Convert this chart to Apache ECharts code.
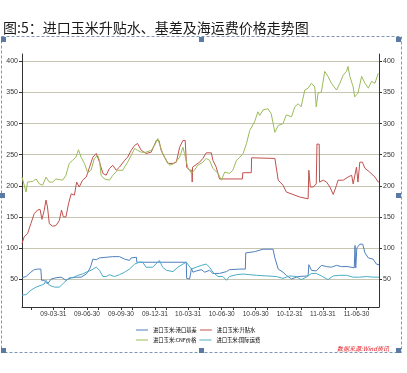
<!DOCTYPE html>
<html><head><meta charset="utf-8">
<script src="https://cdn.jsdelivr.net/npm/echarts@6/dist/echarts.min.js"></script>
<style>html,body{margin:0;padding:0;background:#fff}#c{width:407px;height:373px}</style>
</head><body><div id="c"></div>
<script>
const titleText = '图:5：进口玉米升贴水、基差及海运费价格走势图';
const seriesNames = ['进口玉米:港口基差', '进口玉米:升贴水', '进口玉米:CNF价格', '进口玉米:国际运费'];
const xLabelDates = ['2009-03-31','2009-06-30','2009-09-30','2009-12-31','2010-03-31','2010-06-30','2010-09-30','2010-12-31','2011-03-31','2011-06-30'];
const xTickDates = ['2009-01-31','2009-03-31','2009-04-30','2009-06-30','2009-07-31','2009-09-30','2009-10-31','2009-12-31','2010-01-31','2010-03-31','2010-04-30','2010-06-30','2010-07-31','2010-09-30','2010-10-31','2010-12-31','2011-01-31','2011-03-31','2011-05-31','2011-06-30','2011-07-31'];
const yTickValues = [50,100,150,200,250,300,350,400];

const basisData = [['2009-01-05',52],['2009-01-16',54],['2009-01-29',61],['2009-02-07',65],['2009-02-16',66],['2009-02-25',66],['2009-02-27',48],['2009-03-06',48],['2009-03-15',42],['2009-03-25',50],['2009-04-07',52],['2009-04-21',53],['2009-05-04',48],['2009-05-18',52],['2009-05-31',53],['2009-06-14',53],['2009-06-28',58],['2009-07-07',66],['2009-07-11',72],['2009-07-16',82],['2009-07-25',81],['2009-08-03',84],['2009-08-21',85],['2009-09-08',86],['2009-09-26',86],['2009-10-10',82],['2009-10-23',80],['2009-10-28',84],['2009-11-11',85],['2009-11-12',77],['2010-03-26',77],['2010-03-27',51],['2010-04-04',50],['2010-04-09',67],['2010-04-13',61],['2010-04-22',63],['2010-05-06',65],['2010-05-15',61],['2010-05-28',64],['2010-06-06',59],['2010-06-24',59],['2010-07-13',62],['2010-07-21',65],['2010-08-18',66],['2010-09-02',66],['2010-09-03',92],['2010-09-27',94],['2010-10-20',98],['2010-11-16',98],['2010-11-21',84],['2010-11-30',66],['2010-12-13',61],['2010-12-22',56],['2011-01-05',50],['2011-01-09',49],['2011-01-23',54],['2011-02-19',55],['2011-02-21',73],['2011-02-28',64],['2011-03-13',63],['2011-03-27',72],['2011-04-10',70],['2011-04-23',69],['2011-05-07',72],['2011-05-20',70],['2011-06-07',70],['2011-06-24',68],['2011-06-26',104],['2011-06-28',68],['2011-07-01',100],['2011-07-09',106],['2011-07-14',109],['2011-07-17',106],['2011-07-23',92],['2011-08-01',84],['2011-08-14',82],['2011-08-23',74],['2011-08-30',73]];

const premiumData = [['2009-01-05',107],['2009-01-11',118],['2009-01-20',123],['2009-01-29',139],['2009-02-07',155],['2009-02-16',161],['2009-02-23',162],['2009-02-28',146],['2009-03-06',160],['2009-03-11',177],['2009-03-15',166],['2009-03-20',139],['2009-03-29',135],['2009-04-07',136],['2009-04-16',144],['2009-04-22',161],['2009-04-27',150],['2009-05-04',150],['2009-05-11',171],['2009-05-18',187],['2009-05-27',185],['2009-06-02',206],['2009-06-09',198],['2009-06-18',209],['2009-06-28',214],['2009-07-07',230],['2009-07-16',246],['2009-07-25',252],['2009-08-03',238],['2009-08-12',220],['2009-08-21',217],['2009-08-30',228],['2009-09-08',233],['2009-09-17',225],['2009-09-26',230],['2009-10-10',241],['2009-10-18',246],['2009-10-28',257],['2009-11-06',265],['2009-11-14',268],['2009-11-24',257],['2009-12-07',252],['2009-12-21',254],['2010-01-04',273],['2010-01-11',273],['2010-01-17',257],['2010-01-26',246],['2010-02-04',236],['2010-02-18',236],['2010-02-27',238],['2010-03-08',262],['2010-03-17',273],['2010-03-23',273],['2010-03-27',230],['2010-04-04',225],['2010-04-10',225],['2010-04-11',206],['2010-04-12',230],['2010-04-17',233],['2010-05-01',238],['2010-05-10',244],['2010-05-19',253],['2010-06-02',253],['2010-06-06',241],['2010-06-15',230],['2010-06-24',211],['2010-08-25',211],['2010-08-26',221],['2010-09-18',221],['2010-09-19',245],['2010-11-21',244],['2010-11-30',209],['2010-12-13',201],['2010-12-22',190],['2011-01-09',186],['2011-01-27',182],['2011-01-31',179],['2011-02-19',179],['2011-02-21',225],['2011-02-25',198],['2011-03-05',198],['2011-03-13',203],['2011-03-15',267],['2011-03-21',267],['2011-03-22',206],['2011-04-01',209],['2011-04-10',206],['2011-04-19',198],['2011-04-28',186],['2011-05-07',201],['2011-05-11',209],['2011-05-25',209],['2011-06-07',214],['2011-06-17',217],['2011-06-21',203],['2011-06-30',230],['2011-07-04',206],['2011-07-09',238],['2011-07-16',238],['2011-07-23',228],['2011-08-05',222],['2011-08-19',214],['2011-08-28',206],['2011-08-30',206]];

const cnfData = [['2009-01-05',214],['2009-01-16',190],['2009-01-20',206],['2009-02-03',207],['2009-02-12',211],['2009-02-21',203],['2009-03-02',201],['2009-03-11',214],['2009-03-20',206],['2009-03-29',206],['2009-04-07',211],['2009-04-16',210],['2009-04-25',209],['2009-05-04',217],['2009-05-13',236],['2009-05-22',241],['2009-05-31',246],['2009-06-07',258],['2009-06-14',246],['2009-06-23',236],['2009-07-02',221],['2009-07-11',225],['2009-07-20',244],['2009-07-29',249],['2009-08-03',241],['2009-08-07',217],['2009-08-16',211],['2009-08-30',209],['2009-09-08',217],['2009-09-21',225],['2009-10-05',225],['2009-10-18',238],['2009-10-28',249],['2009-11-06',260],['2009-11-14',257],['2009-11-24',254],['2009-12-07',254],['2009-12-21',257],['2009-12-30',265],['2010-01-08',276],['2010-01-12',268],['2010-01-21',252],['2010-01-31',241],['2010-02-09',233],['2010-02-22',236],['2010-03-08',246],['2010-03-17',262],['2010-03-21',252],['2010-03-30',230],['2010-04-09',220],['2010-04-17',225],['2010-04-26',233],['2010-05-10',238],['2010-05-19',244],['2010-05-28',241],['2010-06-06',228],['2010-06-20',220],['2010-06-29',209],['2010-07-08',222],['2010-07-21',220],['2010-07-30',225],['2010-08-09',241],['2010-08-18',246],['2010-08-27',252],['2010-09-05',268],['2010-09-14',289],['2010-09-27',303],['2010-10-06',319],['2010-10-11',313],['2010-10-20',322],['2010-11-02',324],['2010-11-11',316],['2010-11-21',286],['2010-11-30',297],['2010-12-13',300],['2010-12-22',314],['2011-01-05',311],['2011-01-14',327],['2011-01-23',332],['2011-01-31',327],['2011-02-10',354],['2011-02-19',357],['2011-02-28',365],['2011-03-09',359],['2011-03-13',327],['2011-03-18',349],['2011-03-27',351],['2011-04-05',384],['2011-04-14',376],['2011-04-23',365],['2011-05-07',354],['2011-05-16',365],['2011-05-25',378],['2011-06-03',384],['2011-06-07',392],['2011-06-12',376],['2011-06-21',359],['2011-06-25',343],['2011-07-04',349],['2011-07-14',376],['2011-07-23',365],['2011-08-01',357],['2011-08-10',368],['2011-08-19',365],['2011-08-28',381]];

const freightData = [['2009-01-05',24],['2009-01-16',25],['2009-01-29',32],['2009-02-12',37],['2009-02-26',40],['2009-03-06',42],['2009-03-11',48],['2009-03-20',40],['2009-04-03',37],['2009-04-16',37],['2009-04-25',42],['2009-05-04',47],['2009-05-13',52],['2009-05-22',52],['2009-06-05',56],['2009-06-18',58],['2009-06-28',61],['2009-07-11',64],['2009-07-25',69],['2009-08-03',64],['2009-08-12',54],['2009-08-21',54],['2009-08-30',57],['2009-09-12',54],['2009-09-26',57],['2009-10-10',61],['2009-10-23',66],['2009-11-06',74],['2009-11-19',77],['2009-11-28',77],['2009-12-07',69],['2009-12-25',69],['2009-12-30',72],['2010-01-12',80],['2010-01-21',69],['2010-01-31',64],['2010-02-18',62],['2010-03-03',69],['2010-03-17',74],['2010-03-26',77],['2010-04-09',66],['2010-04-22',69],['2010-05-06',72],['2010-05-19',74],['2010-05-28',69],['2010-06-06',61],['2010-06-20',54],['2010-07-03',54],['2010-07-13',48],['2010-07-21',54],['2010-08-09',57],['2010-08-27',58],['2010-09-14',57],['2010-10-02',56],['2010-10-29',55],['2010-11-25',54],['2010-12-13',51],['2010-12-31',55],['2011-01-18',54],['2011-01-31',49],['2011-02-14',53],['2011-02-28',59],['2011-03-13',59],['2011-03-27',55],['2011-04-14',49],['2011-04-28',55],['2011-05-16',56],['2011-06-03',56],['2011-06-21',53],['2011-07-09',53],['2011-07-27',54],['2011-08-14',53],['2011-08-30',53]];

const colors = ['#4F7FBD', '#C0504D', '#9BBB59', '#4BACC6'];
const P = d => +echarts.number.parseDate(d);
const toXY = arr => arr.map(p => [P(p[0]), p[1]]);
const xLabelVals = xLabelDates.map(P);
const xTickVals = xTickDates.map(P);
const pad = n => (n < 10 ? '0' : '') + n;
const fmtDate = v => { const d = new Date(v); return pad(d.getFullYear() % 100) + '-' + pad(d.getMonth() + 1) + '-' + pad(d.getDate()); };

const chart = echarts.init(document.getElementById('c'), null, {renderer: 'canvas'});
const yAxisBase = {
  type: 'value', min: 5, max: 412,
  axisLine: {show: true, lineStyle: {color: '#333', width: 1}},
  axisTick: {show: true, length: 3, customValues: yTickValues, lineStyle: {color: '#333'}},
  axisLabel: {customValues: yTickValues, fontSize: 7, color: '#333', margin: 4, fontFamily: 'Liberation Sans'}
};
const handle = (x, y) => ({type: 'rect', shape: {x: x, y: y, width: 5, height: 5}, style: {fill: '#5A7AA4'}, z: 10});
chart.setOption({
  animation: false,
  color: colors,
  title: {text: titleText, left: -2, top: 16, textStyle: {fontSize: 14, fontWeight: 'normal', color: '#1a1a1a', fontFamily: 'Noto Sans CJK SC'}},
  grid: {left: 22, right: 28, top: 54, bottom: 66},
  legend: {
    left: 131, top: 321.5, width: 140, icon: 'rect', itemWidth: 12, itemHeight: 1, itemGap: 3,
    data: seriesNames,
    textStyle: {fontSize: 5.3, color: '#000', width: 43, height: 7, lineHeight: 7, fontFamily: 'Noto Sans CJK SC'}
  },
  xAxis: {
    type: 'value', min: P('2009-01-05'), max: P('2011-08-30'),
    axisLine: {onZero: false, lineStyle: {color: '#333', width: 1}},
    axisTick: {show: true, length: 3, customValues: xTickVals, lineStyle: {color: '#333'}},
    axisLabel: {customValues: xLabelVals, fontSize: 6.5, color: '#333', margin: 4, fontFamily: 'Liberation Sans', formatter: fmtDate},
    splitLine: {show: false}
  },
  yAxis: [
    Object.assign({}, yAxisBase, {position: 'left', splitLine: {show: true, lineStyle: {color: '#C9C5B3', width: 1}}}),
    Object.assign({}, yAxisBase, {position: 'right', splitLine: {show: false}})
  ],
  series: [
    {name: seriesNames[0], type: 'line', data: toXY(basisData), symbol: 'none', lineStyle: {width: 1}},
    {name: seriesNames[1], type: 'line', data: toXY(premiumData), symbol: 'none', lineStyle: {width: 1}},
    {name: seriesNames[2], type: 'line', data: toXY(cnfData), symbol: 'none', lineStyle: {width: 1}},
    {name: seriesNames[3], type: 'line', data: toXY(freightData), symbol: 'none', lineStyle: {width: 1}}
  ],
  graphic: [
    {type: 'rect', shape: {x: 1.5, y: 36.5, width: 400, height: 316}, style: {fill: 'none', stroke: '#7F97B5', lineWidth: 1, lineDash: [3, 2]}, z: 9},
    handle(1, 37), handle(199, 37), handle(396, 37),
    handle(0, 193), handle(396, 193),
    handle(1, 348), handle(199, 348), handle(396, 348),
    {type: 'text', x: 337, y: 345.5, style: {text: '数据来源:Wind资讯', fontSize: 6, fontStyle: 'italic', fill: '#E3161E', fontFamily: 'Noto Sans CJK SC'}, z: 10}
  ]
});
</script></body></html>
